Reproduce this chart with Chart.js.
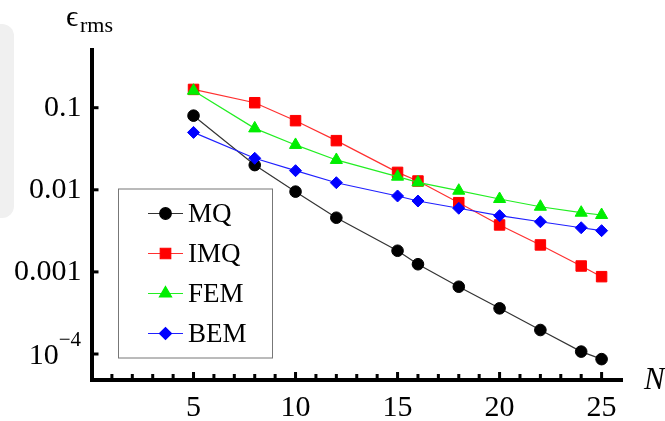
<!DOCTYPE html>
<html>
<head>
<meta charset="utf-8">
<script src="https://cdn.jsdelivr.net/npm/chart.js@4.4.1/dist/chart.umd.min.js"></script>
<style>
  html, body { margin: 0; padding: 0; background: #ffffff; }
  #wrap { width: 665px; height: 421px; position: relative; }
</style>
</head>
<body>
<div id="wrap"><canvas id="errChart"></canvas></div>
<script>
// Number of nodes N and the rms error of each method
const nodes  = [5, 8, 10, 12, 15, 16, 18, 20, 22, 24, 25];
const mqErr  = [0.080, 0.020, 0.0095, 0.00457, 0.00181, 0.00124, 0.00066, 0.00036, 0.000196, 0.000107, 0.0000866];
const imqErr = [0.167, 0.115, 0.0695, 0.0397, 0.0163, 0.0128, 0.00697, 0.00373, 0.00213, 0.00118, 0.000875];
const femErr = [0.161, 0.056, 0.0352, 0.0231, 0.01445, 0.0123, 0.00975, 0.00773, 0.00622, 0.00526, 0.00493];
const bemErr = [0.050, 0.0242, 0.0171, 0.0122, 0.00841, 0.0073, 0.00596, 0.00484, 0.00408, 0.00345, 0.00318];

// Axis ticks
const yTickValues = [0.1, 0.01, 0.001, 0.0001];
const yTickLabels = ['0.1', '0.01', '0.001', ''];   // 10^-4 is typeset separately
const xLabelValues = [5, 10, 15, 20, 25];

const SERIF = '"Liberation Serif", "DejaVu Serif", serif';

function pairs(values) {
  return nodes.map((n, i) => ({ x: n, y: values[i] }));
}

const series = [
  { label: 'MQ',  data: pairs(mqErr),  color: '#000000', line: '#333333', style: 'circle',   radius: 5.8, order: 4 },
  { label: 'IMQ', data: pairs(imqErr), color: '#ff0000', line: '#ff3030', style: 'rect',     radius: 7.4, order: 3 },
  { label: 'FEM', data: pairs(femErr), color: '#00ee00', line: '#22ee22', style: 'triangle', radius: 7.0, order: 2 },
  { label: 'BEM', data: pairs(bemErr), color: '#0000ff', line: '#2020ff', style: 'rectRot',  radius: 6.0, order: 1 }
];

// Inward tick marks on both axes
const axisMarks = {
  id: 'axisMarks',
  afterDatasetsDraw(chart) {
    const ctx = chart.ctx;
    const xs = chart.scales.x, ys = chart.scales.y;
    const area = chart.chartArea;
    ctx.save();
    ctx.fillStyle = '#000000';
    for (let n = 1; n <= 25; n++) {
      const px = xs.getPixelForValue(n);
      const len = n % 5 === 0 ? 8 : 6;
      ctx.fillRect(px - 1.5, area.bottom - len, 3, len);
    }
    yTickValues.forEach(v => {
      const py = ys.getPixelForValue(v);
      ctx.fillRect(area.left, py - 1.5, 7, 3);
    });
    ctx.restore();
  }
};

// Axis titles, the 10^-4 label and the legend box
const annotations = {
  id: 'annotations',
  beforeDraw(chart) {
    const ctx = chart.ctx;
    ctx.save();
    ctx.fillStyle = '#f0f0f0';
    ctx.beginPath();
    ctx.roundRect(-14, 24, 28, 194, 12);
    ctx.fill();
    ctx.restore();
  },
  afterDraw(chart) {
    const ctx = chart.ctx;
    const xs = chart.scales.x, ys = chart.scales.y;
    ctx.save();
    ctx.fillStyle = '#000000';
    ctx.textBaseline = 'alphabetic';

    // y-axis title: epsilon with subscript "rms"
    ctx.textAlign = 'left';
    ctx.font = '30px ' + SERIF;
    ctx.fillText('\u03F5', 66, 26);
    ctx.font = '22px ' + SERIF;
    ctx.fillText('rms', 80, 32);

    // x-axis title
    ctx.font = 'italic 31px ' + SERIF;
    ctx.fillText('N', 644, 389);

    // 10^-4 tick label
    const py = ys.getPixelForValue(0.0001);
    ctx.font = '30px ' + SERIF;
    ctx.textAlign = 'right';
    const supText = '\u22124';
    ctx.font = '21px ' + SERIF;
    const supW = ctx.measureText(supText).width;
    ctx.fillText(supText, 81, py - 8);
    ctx.font = '30px ' + SERIF;
    ctx.fillText('10', 81 - supW, py + 10);

    // legend
    const box = { x: 118, y: 188.5, w: 154, h: 169 };
    ctx.fillStyle = '#ffffff';
    ctx.fillRect(box.x, box.y, box.w, box.h);
    ctx.strokeStyle = '#777777';
    ctx.lineWidth = 1;
    ctx.strokeRect(box.x + 0.5, box.y + 0.5, box.w, box.h);

    series.forEach((s, i) => {
      const rowY = 213.5 + i * 40;
      ctx.strokeStyle = s.line;
      ctx.lineWidth = 1.2;
      ctx.beginPath();
      ctx.moveTo(148, rowY);
      ctx.lineTo(183, rowY);
      ctx.stroke();
      ctx.fillStyle = s.color;
      ctx.strokeStyle = s.color;
      Chart.helpers.drawPoint(ctx, {
        pointStyle: s.style, radius: s.radius, rotation: 0, borderWidth: 1
      }, 165.5, rowY);
      ctx.fillStyle = '#000000';
      ctx.font = '27px ' + SERIF;
      ctx.textAlign = 'left';
      ctx.fillText(s.label, 188, rowY + 8.5);
    });
    ctx.restore();
  }
};

new Chart(document.getElementById('errChart'), {
  type: 'line',
  data: {
    datasets: series.map(s => ({
      label: s.label,
      data: s.data,
      order: s.order,
      borderColor: s.line,
      borderWidth: 1.2,
      backgroundColor: s.color,
      pointBackgroundColor: s.color,
      pointBorderColor: s.color,
      pointBorderWidth: 1,
      pointStyle: s.style,
      pointRadius: s.radius,
      pointHoverRadius: s.radius,
      tension: 0,
      fill: false,
      clip: false
    }))
  },
  options: {
    responsive: true,
    maintainAspectRatio: false,
    animation: false,
    events: [],
    layout: { padding: { top: 50, right: 43, left: 0, bottom: 0 } },
    plugins: {
      legend: { display: false },
      tooltip: { enabled: false },
      title: { display: false }
    },
    scales: {
      x: {
        type: 'linear',
        min: 0,
        max: 26,
        grid: { display: false, drawTicks: false },
        border: { display: true, color: '#000000', width: 4 },
        afterFit(scale) { scale.height = 41; },
        afterBuildTicks(scale) {
          scale.ticks = xLabelValues.map(v => ({ value: v }));
        },
        ticks: {
          autoSkip: false,
          maxRotation: 0,
          padding: 10,
          color: '#000000',
          font: { family: SERIF, size: 30 },
          callback: v => String(v)
        }
      },
      y: {
        type: 'logarithmic',
        min: 4.824e-5,
        max: 0.5045,
        grid: { display: false, drawTicks: false },
        border: { display: true, color: '#000000', width: 4 },
        afterFit(scale) { scale.width = 91.5; },
        afterBuildTicks(scale) {
          scale.ticks = yTickValues.map(v => ({ value: v }));
        },
        ticks: {
          autoSkip: false,
          padding: 10,
          color: '#000000',
          font: { family: SERIF, size: 30 },
          callback: v => {
            const i = yTickValues.findIndex(t => Math.abs(t - v) / t < 1e-6);
            return i >= 0 ? yTickLabels[i] : '';
          }
        }
      }
    }
  },
  plugins: [axisMarks, annotations]
});
</script>
</body>
</html>
